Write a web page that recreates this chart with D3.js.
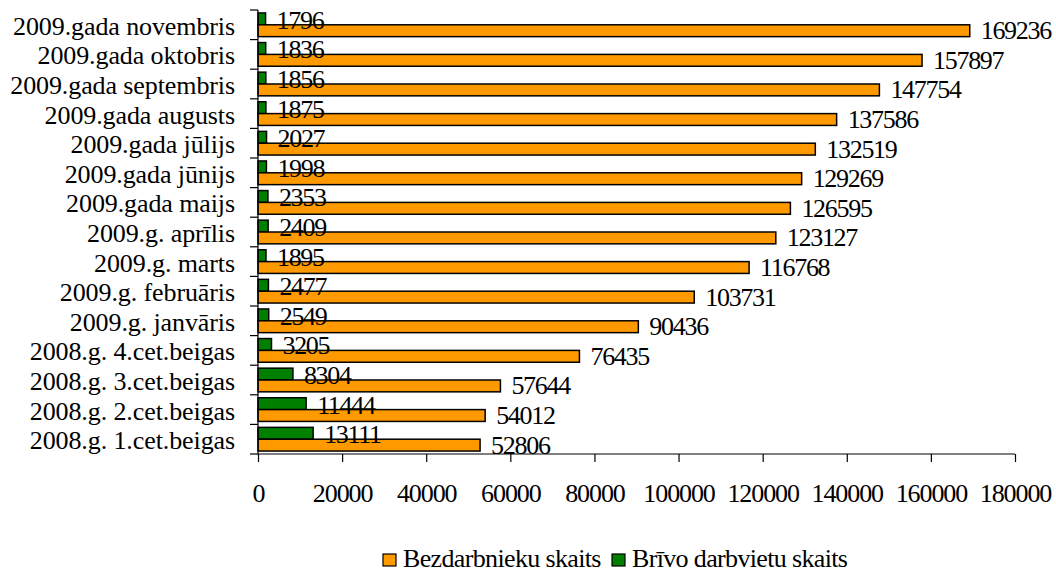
<!DOCTYPE html>
<html lang="lv">
<head>
<meta charset="UTF-8">
<script src="https://cdn.jsdelivr.net/npm/d3@7"></script>
<style>
  body { margin: 0; background: #fff; }
  svg text { font-family: "Liberation Serif", "Times New Roman", serif; fill: #000; }
</style>
</head>
<body>
<svg id="chart" width="1056" height="573"></svg>
<script>
// data, top row first
const categories = ['2009.gada novembris', '2009.gada oktobris', '2009.gada septembris', '2009.gada augusts',
  '2009.gada jūlijs', '2009.gada jūnijs', '2009.gada maijs', '2009.g. aprīlis', '2009.g. marts',
  '2009.g. februāris', '2009.g. janvāris', '2008.g. 4.cet.beigas', '2008.g. 3.cet.beigas',
  '2008.g. 2.cet.beigas', '2008.g. 1.cet.beigas'];
const bezdarbnieki = [169236, 157897, 147754, 137586, 132519, 129269, 126595, 123127, 116768, 103731, 90436, 76435, 57644, 54012, 52806];
const vakances = [1796, 1836, 1856, 1875, 2027, 1998, 2353, 2409, 1895, 2477, 2549, 3205, 8304, 11444, 13111];
const xTicks = [0, 20000, 40000, 60000, 80000, 100000, 120000, 140000, 160000, 180000];
const seriesNames = ['Bezdarbnieku skaits', 'Brīvo darbvietu skaits'];
const colors = { bez: '#FF9900', vak: '#008000' };

const mLeft = 258, mRight = 1015, mTop = 10, mBottom = 454;
const fs = 26;
const svg = d3.select('#chart');

const x = d3.scaleLinear().domain([0, 180000]).range([mLeft, mRight]);
const y = d3.scaleBand().domain(categories).range([mTop, mBottom]).paddingInner(0.2).paddingOuter(0.1);
// green bar on top, orange underneath
const sub = d3.scaleBand().domain(['vak', 'bez']).range([0, y.bandwidth()]);

const rows = categories.map((c, i) => ({ cat: c, vak: vakances[i], bez: bezdarbnieki[i] }));

const g = svg.selectAll('g.row').data(rows).enter().append('g')
  .attr('class', 'row')
  .attr('transform', d => 'translate(0,' + y(d.cat) + ')');

['vak', 'bez'].forEach(k => {
  g.append('rect')
    .attr('x', x(0))
    .attr('y', sub(k))
    .attr('width', d => x(d[k]) - x(0))
    .attr('height', sub.bandwidth())
    .attr('fill', colors[k])
    .attr('stroke', '#000')
    .attr('stroke-width', 1.5);
});
['vak', 'bez'].forEach(k => {
  g.append('text')
    .attr('x', d => x(d[k]) + 11)
    .attr('y', sub(k) + sub.bandwidth() / 2 + (k === 'vak' ? 10 : 8.5))
    .attr('font-size', fs)
    .attr('letter-spacing', -1.3)
    .text(d => d[k]);
});

// category axis
const yAxis = svg.append('g').attr('transform', 'translate(' + mLeft + ',0)')
  .call(d3.axisLeft(y).tickSize(0).tickPadding(23));
yAxis.select('.domain').remove();
yAxis.selectAll('text').attr('font-size', fs).attr('letter-spacing', -0.1).attr('dy', 10);
const bounds = d3.range(categories.length + 1).map(i => mTop + i * y.step());
svg.selectAll('line.ytick').data(bounds).enter().append('line')
  .attr('x1', mLeft - 8).attr('x2', mLeft).attr('y1', d => d).attr('y2', d => d)
  .attr('stroke', '#000').attr('stroke-width', 1.2);
svg.append('line').attr('x1', mLeft).attr('x2', mLeft).attr('y1', mTop).attr('y2', mBottom)
  .attr('stroke', '#000').attr('stroke-width', 1.2);

// value axis
const xAxis = svg.append('g').attr('transform', 'translate(0,' + mBottom + ')')
  .call(d3.axisBottom(x).tickValues(xTicks).tickFormat(d3.format('d')).tickSize(8));
xAxis.select('.domain').attr('d', 'M' + mLeft + ',0H' + mRight).attr('stroke-width', 1.2);
xAxis.selectAll('.tick line').attr('stroke-width', 1.2);
xAxis.selectAll('text').attr('font-size', fs).attr('letter-spacing', -1.1)
  .attr('y', 48).attr('dy', 0);

// legend
const legend = [{ name: seriesNames[0], c: colors.bez, x: 383 }, { name: seriesNames[1], c: colors.vak, x: 612 }];
const lg = svg.selectAll('g.leg').data(legend).enter().append('g')
  .attr('transform', d => 'translate(' + d.x + ',554)');
lg.append('rect').attr('width', 13).attr('height', 12).attr('fill', d => d.c)
  .attr('stroke', '#000').attr('stroke-width', 1.2);
lg.append('text').attr('x', 20).attr('y', 13).attr('font-size', fs).attr('letter-spacing', -0.65)
  .text(d => d.name);
</script>
</body>
</html>
